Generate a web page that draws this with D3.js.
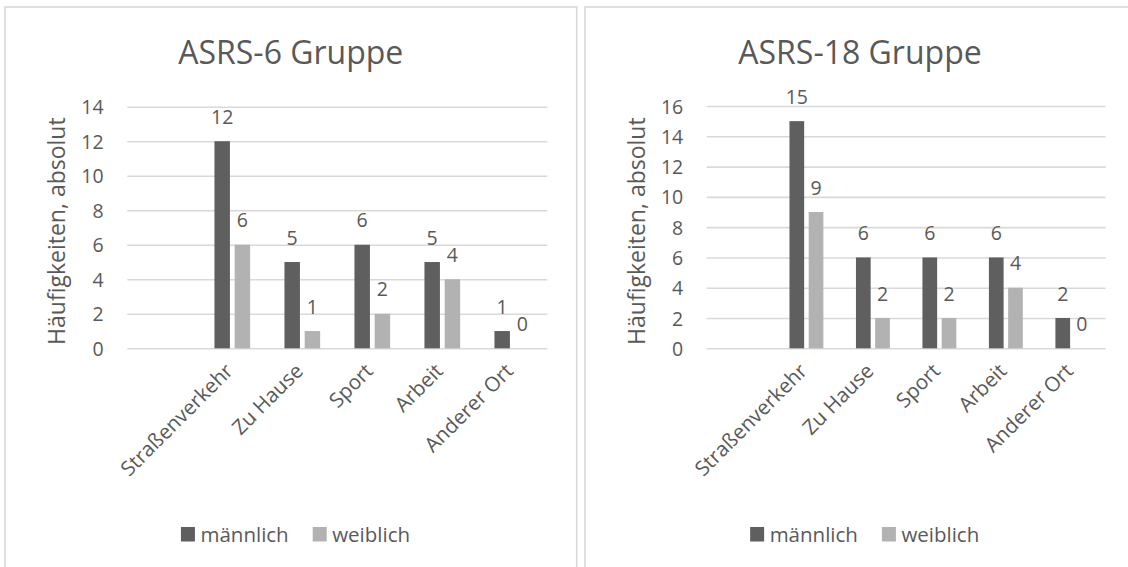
<!DOCTYPE html>
<html>
<head>
<meta charset="utf-8">
<script src="https://cdn.jsdelivr.net/npm/d3@7"></script>
<style>
  html, body { margin: 0; padding: 0; background: #ffffff; }
  svg { display: block; }
  text { font-family: "Open Sans", "Segoe UI", sans-serif; fill: #595959; }
</style>
</head>
<body>
<svg id="chart" width="1128" height="567"></svg>
<script>
// Accident locations by sex, two screening groups
const categories = ["Straßenverkehr", "Zu Hause", "Sport", "Arbeit", "Anderer Ort"];
const seriesNames = ["männlich", "weiblich"];

const asrs6Male = [12, 5, 6, 5, 1];
const asrs6Female = [6, 1, 2, 4, 0];
const asrs6Ticks = [0, 2, 4, 6, 8, 10, 12, 14];

const asrs18Male = [15, 6, 6, 6, 2];
const asrs18Female = [9, 2, 2, 4, 0];
const asrs18Ticks = [0, 2, 4, 6, 8, 10, 12, 14, 16];

const titles = ["ASRS-6 Gruppe", "ASRS-18 Gruppe"];
const yAxisTitle = "Häufigkeiten, absolut";

const colors = { "männlich": "#5f5f5f", "weiblich": "#b2b2b2" };
const gridColor = "#d9d9d9";

const svg = d3.select("#chart");

// panel frames
const frames = [
  { x: 5, y: 7, w: 571.7, h: 600 },
  { x: 585, y: 7, w: 600, h: 600 }
];
frames.forEach(f => {
  svg.append("rect")
    .attr("x", f.x).attr("y", f.y)
    .attr("width", f.w).attr("height", f.h)
    .attr("fill", "none")
    .attr("stroke", gridColor)
    .attr("stroke-width", 1.6);
});

const panels = [
  {
    title: titles[0], male: asrs6Male, female: asrs6Female, ticks: asrs6Ticks,
    x0: 127.3, x1: 547.3, yBottom: 348.3, yTop: 106.7,
    tickRight: 103.6, yTitleX: 57, titleX: 290.8, legendX: 295.5
  },
  {
    title: titles[1], male: asrs18Male, female: asrs18Female, ticks: asrs18Ticks,
    x0: 706.7, x1: 1105.6, yBottom: 348.3, yTop: 106,
    tickRight: 683.2, yTitleX: 636.7, titleX: 860, legendX: 864.7
  }
];

function drawPanel(p) {
  const g = svg.append("g");
  const slots = [""].concat(categories);   // leading empty slot on the category axis

  const x = d3.scaleBand().domain(slots).range([p.x0, p.x1]).paddingInner(0).paddingOuter(0);
  const bw = x.bandwidth() * 0.221;
  const gap = x.bandwidth() * 0.068;
  const xs = d3.scaleBand().domain(seriesNames)
    .range([0, 2 * bw + gap])
    .paddingInner(gap / (bw + gap)).paddingOuter(0);

  const yMax = p.ticks[p.ticks.length - 1];
  const y = d3.scaleLinear().domain([0, yMax]).range([p.yBottom, p.yTop]);

  // title
  g.append("text")
    .attr("x", p.titleX).attr("y", 63.5)
    .attr("text-anchor", "middle")
    .style("font-size", "32px")
    .text(p.title);

  // gridlines + value axis labels
  const yAxis = d3.axisLeft(y).tickValues(p.ticks).tickSize(-(p.x1 - p.x0)).tickPadding(0);
  const ya = g.append("g")
    .attr("transform", `translate(${p.x0},0)`)
    .call(yAxis);
  ya.select(".domain").remove();
  ya.selectAll(".tick line").attr("stroke", gridColor).attr("stroke-width", 1.6);
  ya.selectAll(".tick text")
    .attr("x", p.tickRight - p.x0)
    .attr("dy", "0.36em")
    .attr("fill", "#595959")
    .style("font-size", "19.5px")
    .style("font-family", "'Open Sans', sans-serif");

  // value axis title
  g.append("text")
    .attr("transform", `translate(${p.yTitleX},${(p.yBottom + 114) / 2}) rotate(-90)`)
    .attr("text-anchor", "middle")
    .attr("dy", "0.36em")
    .style("font-size", "23px")
    .text(yAxisTitle);

  // bars
  const rows = categories.map((c, i) => ({ cat: c, "männlich": p.male[i], "weiblich": p.female[i] }));
  const groups = g.append("g").selectAll("g").data(rows).join("g")
    .attr("transform", d => `translate(${x(d.cat) + x.bandwidth() / 2 - (2 * bw + gap) / 2},0)`);

  const cells = groups.selectAll("g").data(d => seriesNames.map(s => ({ s, v: d[s] }))).join("g");
  cells.append("rect")
    .attr("x", d => xs(d.s))
    .attr("width", xs.bandwidth())
    .attr("y", d => y(d.v))
    .attr("height", d => y(0) - y(d.v))
    .attr("fill", d => colors[d.s]);
  cells.append("text")
    .attr("x", d => xs(d.s) + xs.bandwidth() / 2)
    .attr("y", d => y(d.v) - 17.5)
    .attr("text-anchor", "middle")
    .style("font-size", "19.5px")
    .text(d => d.v);

  // category labels, rotated
  g.append("g").selectAll("text").data(categories).join("text")
    .attr("transform", d => `translate(${x(d) + x.bandwidth() / 2 + 2},${p.yBottom + 24}) rotate(-45)`)
    .attr("text-anchor", "end")
    .style("font-size", "20.5px")
    .text(d => d);

  // legend
  const lg = g.append("g");
  let cx = 0;
  seriesNames.forEach(s => {
    lg.append("rect").attr("x", cx).attr("y", 527).attr("width", 14).attr("height", 14.5).attr("fill", colors[s]);
    const t = lg.append("text").attr("x", cx + 19.5).attr("y", 542).style("font-size", "20.5px").text(s);
    cx += 19.5 + t.node().getComputedTextLength() + 24;
  });
  const total = cx - 24;
  lg.attr("transform", `translate(${p.legendX - total / 2},0)`);
}

panels.forEach(drawPanel);
</script>
</body>
</html>
